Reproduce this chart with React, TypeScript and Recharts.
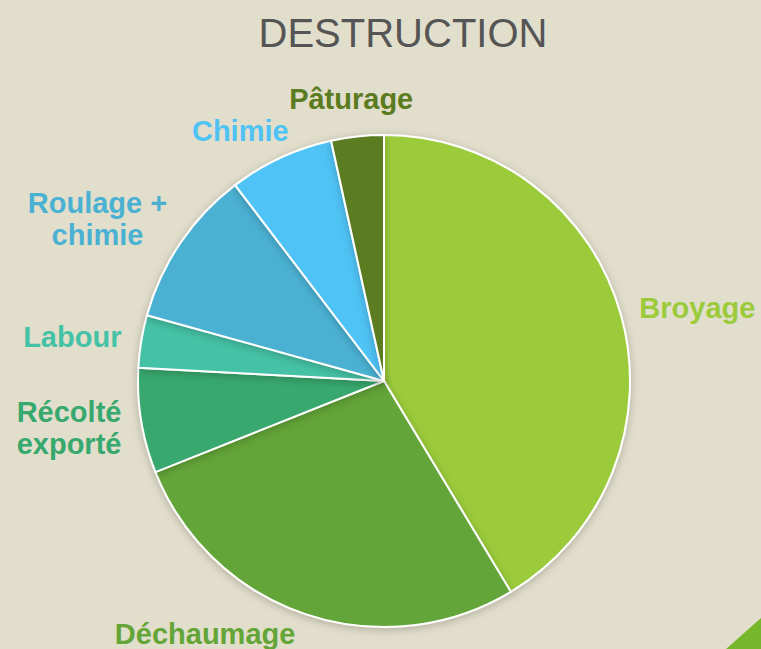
import { PieChart, Pie, Cell } from 'recharts';

const categories = ['Broyage', 'Déchaumage', 'Récolté exporté', 'Labour', 'Roulage + chimie', 'Chimie', 'Pâturage'];
const values = [12, 8, 2, 1, 3, 2, 1];
const colors = ['#9BCB3B', '#63A537', '#37A86E', '#45C2A5', '#4BB1D3', '#50C3F5', '#5B7B20'];
const labelLines = [['Broyage'], ['Déchaumage'], ['Récolté', 'exporté'], ['Labour'], ['Roulage +', 'chimie'], ['Chimie'], ['Pâturage']];

// label placement tweaks, relative to the slice's mid angle
const labelPlacement = [
  { r: 265, anchor: 'start', dx: 0, dy: -2 },
  { r: 265, anchor: 'end', dx: -4, dy: 2 },
  { r: 262, anchor: 'end', dx: -4, dy: 5 },
  { r: 262, anchor: 'end', dx: -4, dy: -2 },
  { r: 270, anchor: 'middle', dx: -63, dy: -10 },
  { r: 270, anchor: 'end', dx: 18, dy: -5 },
  { r: 285, anchor: 'middle', dx: -2, dy: 1 },
];

const data = categories.map((name, i) => ({ name, value: values[i] }));

const RADIAN = Math.PI / 180;

const renderLabel = (props: any) => {
  const { cx, cy, midAngle, index } = props;
  const p = labelPlacement[index];
  const x = cx + p.r * Math.cos(-midAngle * RADIAN) + p.dx;
  const y = cy + p.r * Math.sin(-midAngle * RADIAN) + p.dy;
  const lines = labelLines[index];
  const lh = 32;
  const startY = y - ((lines.length - 1) * lh) / 2;
  return (
    <text
      x={x}
      y={startY}
      textAnchor={p.anchor}
      dominantBaseline="central"
      fill={colors[index]}
      fontSize={29}
      fontWeight="bold"
      fontFamily="'Liberation Sans', Arial, sans-serif"
    >
      {lines.map((l, j) => (
        <tspan key={j} x={x} y={startY + j * lh}>{l}</tspan>
      ))}
    </text>
  );
};

export default function App() {
  return (
    <div
      style={{
        position: 'absolute',
        left: 0,
        top: 0,
        width: 761,
        height: 649,
        background: '#E2DECC',
        overflow: 'hidden',
        fontFamily: "'Liberation Sans', Arial, sans-serif",
      }}
    >
      <div
        style={{
          position: 'absolute',
          left: 0,
          width: 806,
          top: 8,
          textAlign: 'center',
          fontSize: 40,
          color: '#555555',
          lineHeight: '50px',
        }}
      >
        DESTRUCTION
      </div>
      {/* decorative corner */}
      <div
        style={{
          position: 'absolute',
          left: 726,
          top: 618,
          width: 35,
          height: 31,
          background: '#77B72C',
          clipPath: 'polygon(100% 0, 100% 100%, 0 100%)',
        }}
      />
      <div style={{ position: 'absolute', left: 0, top: 0 }}>
        <PieChart width={761} height={649} margin={{ top: 0, right: 0, bottom: 0, left: 0 }}>
          <defs>
            <filter id="pieShadow" x="-10%" y="-10%" width="120%" height="120%">
              <feDropShadow dx="0" dy="2" stdDeviation="4" floodColor="#000" floodOpacity="0.22" />
            </filter>
          </defs>
          <Pie
            data={data}
            dataKey="value"
            nameKey="name"
            cx={384}
            cy={381}
            outerRadius={246}
            startAngle={90}
            endAngle={-270}
            stroke="#ffffff"
            strokeWidth={2}
            label={renderLabel}
            labelLine={false}
            isAnimationActive={false}
            style={{ filter: 'url(#pieShadow)' }}
          >
            {data.map((d, i) => (
              <Cell key={d.name} fill={colors[i]} />
            ))}
          </Pie>
        </PieChart>
      </div>
    </div>
  );
}
